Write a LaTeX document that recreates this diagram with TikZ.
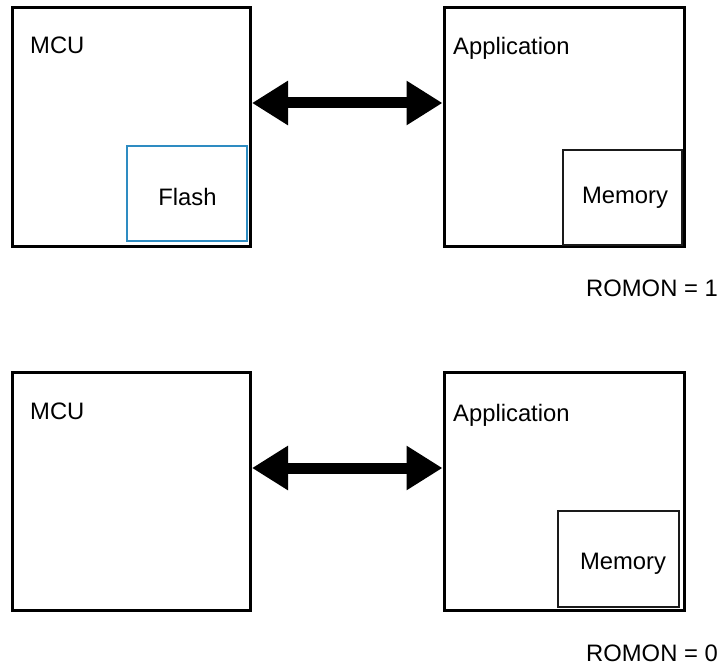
\documentclass[tikz,border=0pt]{standalone}
\usepackage{fontspec}
\setmainfont{Liberation Sans}
\usepackage{xcolor}
\usetikzlibrary{arrows.meta}
\definecolor{flashblue}{HTML}{2E8CC2}
\definecolor{memgrey}{HTML}{1A1A1A}

\begin{document}
\begin{tikzpicture}[
  x=1pt, y=-1pt,
  font=\fontsize{23.8}{28}\selectfont,
  block/.style={draw=black, line width=3pt, minimum width=238pt, minimum height=238pt},
  flashbox/.style={draw=flashblue, line width=1.4pt, minimum width=120pt, minimum height=95pt},
  membox/.style={draw=memgrey, line width=1.4pt, minimum width=119pt, minimum height=95pt},
  lbl/.style={inner sep=0pt},
  link/.style={{Triangle[length=36pt,width=42pt]}-{Triangle[length=36pt,width=42pt]},
    line width=11pt}
]
  \useasboundingbox (0,0) rectangle (722,666);

  % ROMON = 1
  \node[block] (mcu1) at (131.5,127) {};
  \node[block, minimum width=240pt] (app1) at (564,127) {};
  \node[flashbox] (flash1) at (187,193.5) {};
  \node[membox] (mem1) at (622.5,197.5) {};
  \node[lbl, anchor=base west] (mcutext1) at (30,54) {MCU};
  \node[lbl, anchor=base west] (apptext1) at (453,55) {Application};
  \node[lbl, anchor=base] (flashtext1) at (187.5,205) {Flash};
  \node[lbl, anchor=base] (memtext1) at (625,203) {Memory};
  \node[lbl, anchor=base east] (romon1) at (718,296) {ROMON = 1};
  \draw[link] ([yshift=24pt]mcu1.east) -- ([yshift=24pt]app1.west);

  % ROMON = 0
  \node[block] (mcu0) at (131.5,491.5) {};
  \node[block, minimum width=240pt] (app0) at (564,491.5) {};
  \node[membox, minimum width=121pt, minimum height=96pt] (mem0) at (618.5,559) {};
  \node[lbl, anchor=base west] (mcutext0) at (30,419) {MCU};
  \node[lbl, anchor=base west] (apptext0) at (453,421) {Application};
  \node[lbl, anchor=base] (memtext0) at (623,569) {Memory};
  \node[lbl, anchor=base east] (romon0) at (718,661) {ROMON = 0};
  \draw[link] ([yshift=23.5pt]mcu0.east) -- ([yshift=23.5pt]app0.west);
\end{tikzpicture}
\end{document}
